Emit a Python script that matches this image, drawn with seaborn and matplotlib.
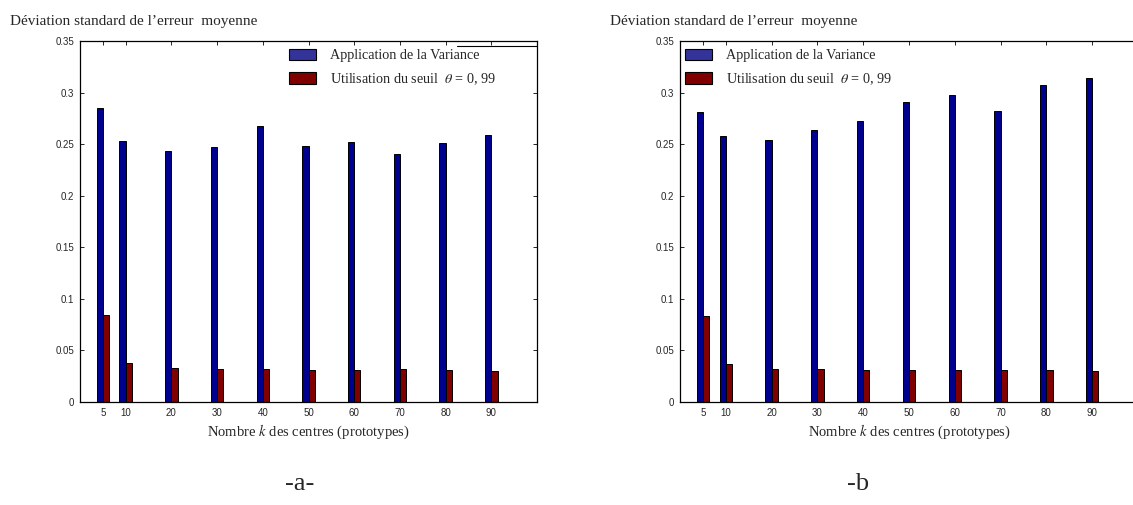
import numpy as np
import pandas as pd
import matplotlib.pyplot as plt
from matplotlib.patches import Patch
import seaborn as sns

# k values (number of centres)
k_values = [5, 10, 20, 30, 40, 50, 60, 70, 80, 90]

# panel -a-
variance_a = [0.285, 0.253, 0.243, 0.247, 0.268, 0.248, 0.252, 0.240, 0.251, 0.259]
seuil_a = [0.084, 0.038, 0.033, 0.032, 0.032, 0.031, 0.031, 0.032, 0.031, 0.030]

# panel -b
variance_b = [0.281, 0.258, 0.254, 0.264, 0.272, 0.291, 0.298, 0.282, 0.307, 0.314]
seuil_b = [0.083, 0.037, 0.032, 0.032, 0.031, 0.031, 0.031, 0.031, 0.031, 0.030]

methods = ["Application de la Variance", r"Utilisation du seuil  $\theta$ = 0, 99"]
bar_colors = ["#00008f", "#800000"]
legend_colors = ["#333399", "#800000"]

y_ticks = [0, 0.05, 0.1, 0.15, 0.2, 0.25, 0.3, 0.35]
y_tick_labels = ["0", "0.05", "0.1", "0.15", "0.2", "0.25", "0.3", "0.35"]

title_txt = "Déviation standard de l\u2019erreur  moyenne"
xlabel_txt = r"Nombre $k$ des centres (prototypes)"

sns.set_style("white")
plt.rcParams["font.family"] = ["Liberation Serif", "DejaVu Serif"]
plt.rcParams["mathtext.fontset"] = "stix"


def make_df(var, seuil):
    return pd.DataFrame({
        "k": k_values * 2,
        "val": var + seuil,
        "method": [methods[0]] * len(k_values) + [methods[1]] * len(k_values),
    })


fig = plt.figure(figsize=(11.33, 5.05), dpi=100)
ax_a = fig.add_axes([80 / 1133, 103 / 505, 457 / 1133, 361 / 505])
ax_b = fig.add_axes([680 / 1133, 103 / 505, 458 / 1133, 361 / 505])

panels = [
    (ax_a, make_df(variance_a, seuil_a), 0.457, 10 / 1133, "-a-", 300 / 1133),
    (ax_b, make_df(variance_b, seuil_b), 0.011, 610 / 1133, "-b", 858 / 1133),
]

for ax, df, leg_x, title_x, tag, tag_x in panels:
    sns.barplot(
        data=df, x="k", y="val", hue="method", hue_order=methods,
        native_scale=True, width=0.55, palette=bar_colors, saturation=1,
        edgecolor="black", linewidth=0.7, errorbar=None, legend=False, ax=ax,
    )
    ax.set_xlim(0, 100)
    ax.set_ylim(0, 0.35)
    ax.set_xticks(k_values)
    ax.set_xticklabels([str(k) for k in k_values], family="Liberation Sans", fontsize=7)
    ax.set_yticks(y_ticks)
    ax.set_yticklabels(y_tick_labels, family="Liberation Sans", fontsize=7)
    ax.tick_params(direction="in", length=3, width=0.7, top=True, right=True,
                   bottom=True, left=True, pad=4)
    for s in ax.spines.values():
        s.set_linewidth(0.9)
        s.set_color("black")
    ax.set_xlabel(xlabel_txt, fontsize=10.5, labelpad=4)
    ax.set_ylabel("")

    handles = [Patch(facecolor=c, edgecolor="black", linewidth=0.8) for c in legend_colors]
    ax.legend(handles, methods, loc="upper left", bbox_to_anchor=(leg_x, 0.978),
              frameon=False, fontsize=10.2, handlelength=1.9, handleheight=0.85,
              handletextpad=1.0, labelspacing=0.6, borderpad=0, borderaxespad=0)

    fig.text(title_x, 1 - 22 / 505, title_txt, fontsize=11, ha="left", va="center")
    fig.text(tag_x, 1 - 484 / 505, tag, fontsize=19, ha="center", va="center")

# stray line left over from the legend box in panel -a-
ax_a.plot([0.825, 1.0], [0.987, 0.987], transform=ax_a.transAxes,
          color="black", linewidth=0.8)

plt.savefig("out.png", dpi=100)
